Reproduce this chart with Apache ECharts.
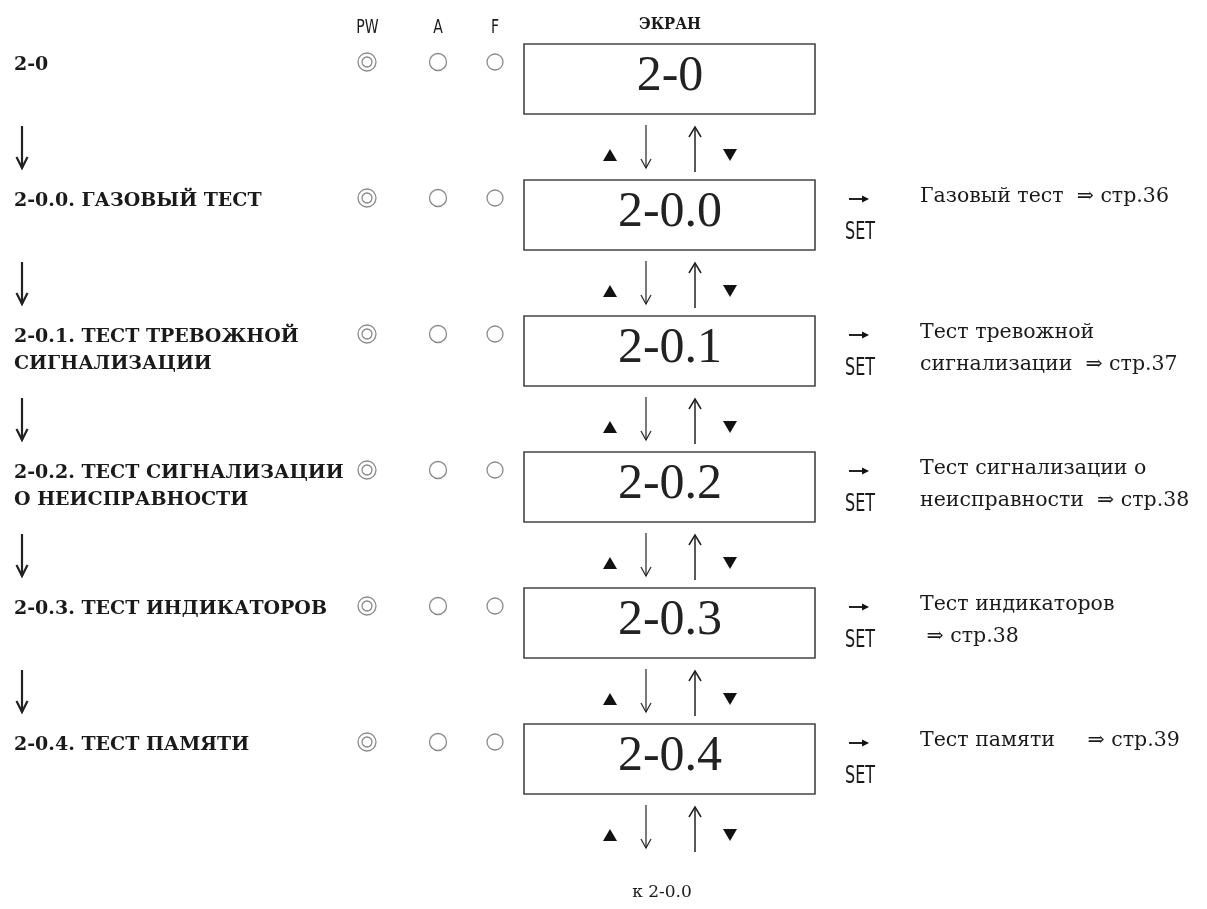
<!DOCTYPE html>
<html>
<head>
<meta charset="utf-8">
<script src="https://cdn.jsdelivr.net/npm/echarts@6/dist/echarts.min.js"></script>
<style>html,body{margin:0;padding:0;background:#fff;}#main{width:1207px;height:909px;}</style>
</head>
<body>
<div id="main"></div>
<script>
// ---- data ----
const screenCodes = ['2-0', '2-0.0', '2-0.1', '2-0.2', '2-0.3', '2-0.4'];
const modeLabels = [
  ['2-0'],
  ['2-0.0. ГАЗОВЫЙ ТЕСТ'],
  ['2-0.1. ТЕСТ ТРЕВОЖНОЙ', 'СИГНАЛИЗАЦИИ'],
  ['2-0.2. ТЕСТ СИГНАЛИЗАЦИИ', 'О НЕИСПРАВНОСТИ'],
  ['2-0.3. ТЕСТ ИНДИКАТОРОВ'],
  ['2-0.4. ТЕСТ ПАМЯТИ']
];
const descriptions = [
  [],
  ['Газовый тест  ⇒ стр.36'],
  ['Тест тревожной', 'сигнализации  ⇒ стр.37'],
  ['Тест сигнализации о', 'неисправности  ⇒ стр.38'],
  ['Тест индикаторов', ' ⇒ стр.38'],
  ['Тест памяти     ⇒ стр.39']
];
const ledHeaders = ['PW', 'A', 'F'];
const screenHeader = 'ЭКРАН';
const setKey = 'SET';
const returnLabel = 'к 2-0.0';

// ---- drawing ----
const BOLD = 'bold 19px "DejaVu Serif", serif';
const DESC = '20.5px "DejaVu Serif", serif';

function txt(x, y, text, font, align, extra) {
  const el = { type: 'text', x: x, y: y, style: { x: 0, y: 0, text: text, font: font, fill: '#1a1a1a', textAlign: align || 'left', textVerticalAlign: 'middle' } };
  if (extra) Object.assign(el, extra);
  return el;
}
function line(x1, y1, x2, y2, w, c) {
  return { type: 'line', shape: { x1: x1, y1: y1, x2: x2, y2: y2 }, style: { stroke: c || '#222', lineWidth: w } };
}
function poly(points, w) {
  return { type: 'polyline', shape: { points: points }, style: { stroke: '#222', lineWidth: w, fill: null } };
}
function tri(points) {
  return { type: 'polygon', shape: { points: points }, style: { fill: '#111', stroke: null } };
}
function circ(cx, cy, r, w) {
  return { type: 'circle', shape: { cx: cx, cy: cy, r: r }, style: { fill: null, stroke: '#8a8a8a', lineWidth: w } };
}

function renderItem(params, api) {
  const i = params.dataIndex;
  const p = api.coord([0, i]);
  const X = function (v) { return api.coord([v, i])[0]; };
  const yc = p[1];
  const ch = [];

  if (i === 0) {
    const hx = [367.5, 438, 495];
    ledHeaders.forEach(function (h, k) {
      ch.push(txt(X(hx[k]), yc - 51, h, '20px "DejaVu Sans", sans-serif', 'center', { scaleX: 0.7 }));
    });
    ch.push(txt(X(670), yc - 54, screenHeader, 'bold 16px "DejaVu Serif", serif', 'center', { scaleX: 0.92 }));
  }

  // left label
  modeLabels[i].forEach(function (t, k) {
    ch.push(txt(X(14), yc - 14 + k * 27, t, BOLD, 'left'));
  });

  // LEDs
  ch.push(circ(X(367), yc - 17, 9, 1.3));
  ch.push(circ(X(367), yc - 17, 5, 1.3));
  ch.push(circ(X(438), yc - 17, 8.5, 1.3));
  ch.push(circ(X(495), yc - 17, 8, 1.3));

  // screen box
  ch.push({ type: 'rect', shape: { x: X(524), y: yc - 35, width: X(815) - X(524), height: 70 }, style: { fill: null, stroke: '#444', lineWidth: 1.6 } });
  ch.push(txt(X(670), yc - 2, screenCodes[i], '50px "Liberation Serif", serif', 'center', { style: null }));
  ch[ch.length - 1].style = { x: 0, y: 0, text: screenCodes[i], font: '50px "Liberation Serif", serif', fill: '#222', textAlign: 'center', textVerticalAlign: 'middle' };

  // SET and description
  if (descriptions[i].length) {
    ch.push(line(X(849), yc - 16, X(867), yc - 16, 2));
    ch.push(tri([[X(862), yc - 19.5], [X(869), yc - 16], [X(862), yc - 12.5]]));
    ch.push(txt(X(860), yc + 17, setKey, '25px "DejaVu Sans", sans-serif', 'center', { scaleX: 0.64 }));
    descriptions[i].forEach(function (t, k) {
      ch.push(txt(X(920), yc - 18 + k * 32, t, DESC, 'left'));
    });
  }

  // left flow arrow
  if (i < screenCodes.length - 1) {
    ch.push(line(X(22), yc + 47, X(22), yc + 89, 2.2));
    ch.push(poly([[X(16.5), yc + 78], [X(22), yc + 89], [X(27.5), yc + 78]], 2.2));
  }

  // navigation arrows below box
  ch.push(tri([[X(603), yc + 82], [X(617), yc + 82], [X(610), yc + 70]]));
  ch.push(line(X(646), yc + 46, X(646), yc + 89, 1.2));
  ch.push(poly([[X(641), yc + 80], [X(646), yc + 89], [X(651), yc + 80]], 1.2));
  ch.push(line(X(695), yc + 93, X(695), yc + 48, 1.5));
  ch.push(poly([[X(689), yc + 58], [X(695), yc + 48], [X(701), yc + 58]], 1.5));
  ch.push(tri([[X(723), yc + 70], [X(737), yc + 70], [X(730), yc + 82]]));

  if (i === screenCodes.length - 1) {
    ch.push(txt(X(662), yc + 134, returnLabel, '17px "DejaVu Serif", serif', 'center'));
  }

  return { type: 'group', children: ch };
}

const chart = echarts.init(document.getElementById('main'), null, { renderer: 'canvas' });
chart.setOption({
  backgroundColor: '#ffffff',
  animation: false,
  grid: { left: 0, right: 0, top: 11, bottom: 82 },
  xAxis: { type: 'value', min: 0, max: 1207, show: false },
  yAxis: { type: 'category', data: screenCodes, inverse: true, show: false },
  series: [{
    type: 'custom',
    coordinateSystem: 'cartesian2d',
    renderItem: renderItem,
    data: screenCodes.map(function (c, k) { return [0, k]; }),
    encode: { x: 0, y: 1 },
    clip: false
  }]
});
</script>
</body>
</html>
